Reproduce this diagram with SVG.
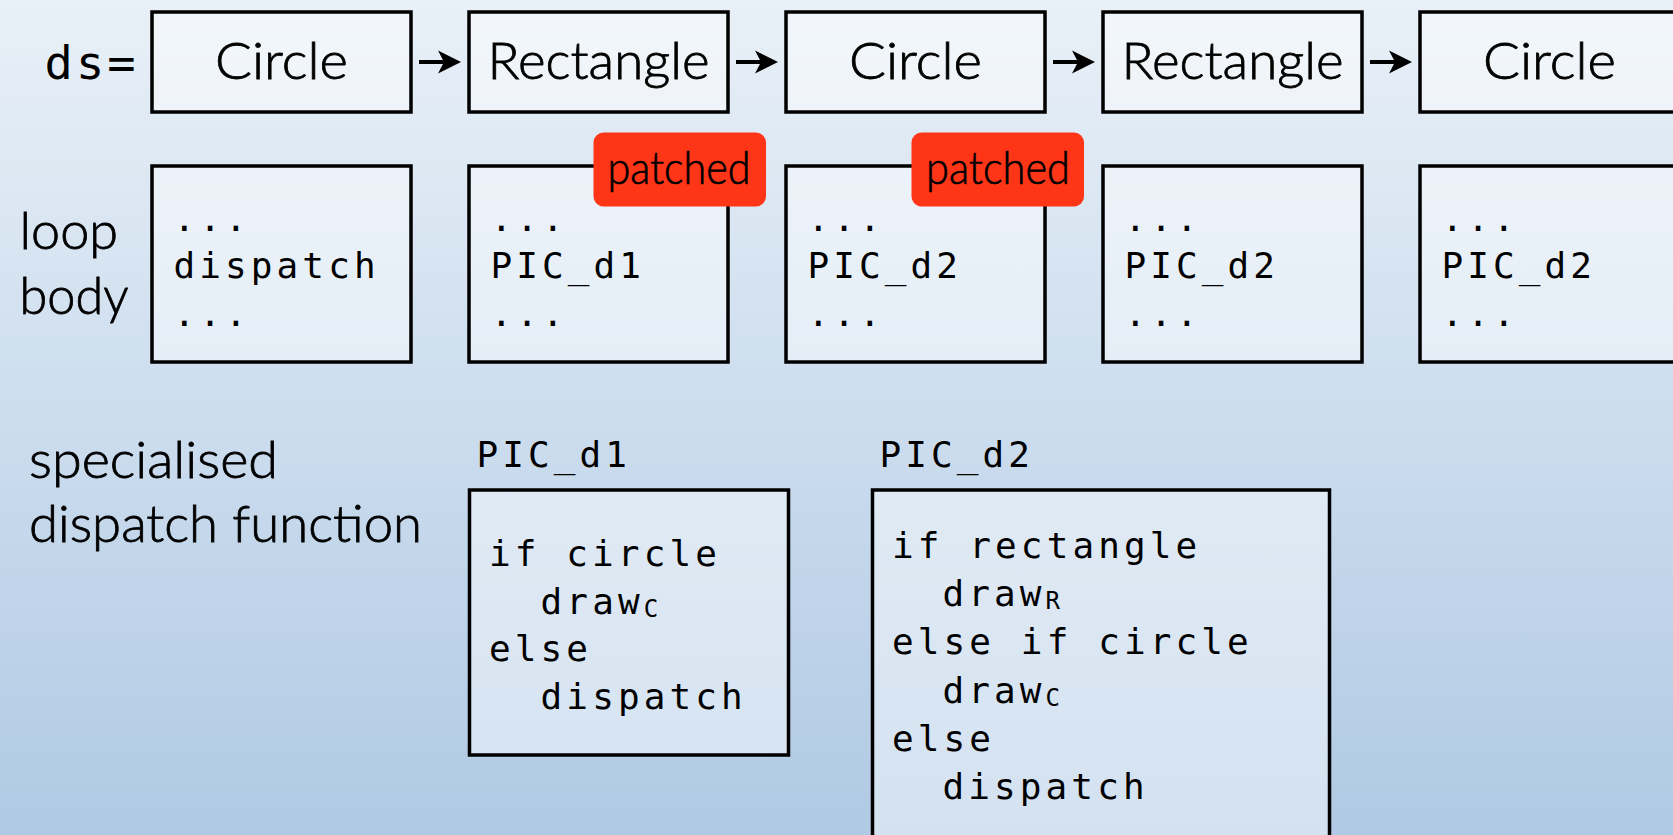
<svg xmlns="http://www.w3.org/2000/svg" width="1673" height="835" viewBox="0 0 1673 835">
<defs>
<linearGradient id="bg" x1="0" y1="0" x2="0" y2="1">
<stop offset="0" stop-color="#E9F0F7"/>
<stop offset="0.5" stop-color="#CCDDEE"/>
<stop offset="1" stop-color="#B0C9E4"/>
</linearGradient>
<path id="ah" d="M0,0 L-23,-11.5 L-17,0 L-23,11.5 Z"/>
</defs>
<style>
.box{fill:#FFFFFF;fill-opacity:0.45;stroke:#000;stroke-width:3.5}
.hum{font-family:Lato,"Open Sans","Liberation Sans",sans-serif;font-weight:300;font-size:52px;fill:#000;stroke:#000;stroke-width:0.8px}
.mono{font-family:"DejaVu Sans Mono","Liberation Mono",monospace;font-size:36px;letter-spacing:4.1px;fill:#000}
.sub{font-size:24px;letter-spacing:0}
.tag{fill:#FF3518}
.tagt{font-family:Lato,"Open Sans","Liberation Sans",sans-serif;font-weight:300;font-size:46px;fill:#000;stroke:#000;stroke-width:0.7px}
.conn line{stroke:#000;stroke-width:4}
.conn use{fill:#000}
</style>
<rect x="0" y="0" width="1673" height="835" fill="url(#bg)"/>

<g id="labels">
<text class="mono" x="44.5" y="79" style="font-size:47px;letter-spacing:3.1px">ds=</text>
<text class="hum" x="19.5" y="248.5" textLength="98.5" lengthAdjust="spacingAndGlyphs">loop</text>
<text class="hum" x="19.5" y="313.5" textLength="109" lengthAdjust="spacingAndGlyphs">body</text>
<text class="hum" x="29" y="478" textLength="249" lengthAdjust="spacingAndGlyphs">specialised</text>
<text class="hum" x="29" y="541.5" textLength="393" lengthAdjust="spacingAndGlyphs">dispatch function</text>
</g>

<g id="ds1">
<rect class="box" x="152" y="12" width="259" height="100"/>
<text class="hum" x="281.5" y="79" text-anchor="middle" textLength="133" lengthAdjust="spacingAndGlyphs">Circle</text>
</g>
<g id="ds2">
<rect class="box" x="469" y="12" width="259" height="100"/>
<text class="hum" x="598.5" y="79" text-anchor="middle" textLength="222" lengthAdjust="spacingAndGlyphs">Rectangle</text>
</g>
<g id="ds3">
<rect class="box" x="786" y="12" width="259" height="100"/>
<text class="hum" x="915.5" y="79" text-anchor="middle" textLength="133" lengthAdjust="spacingAndGlyphs">Circle</text>
</g>
<g id="ds4">
<rect class="box" x="1103" y="12" width="259" height="100"/>
<text class="hum" x="1232.5" y="79" text-anchor="middle" textLength="222" lengthAdjust="spacingAndGlyphs">Rectangle</text>
</g>
<g id="ds5">
<rect class="box" x="1420" y="12" width="259" height="100"/>
<text class="hum" x="1549.5" y="79" text-anchor="middle" textLength="133" lengthAdjust="spacingAndGlyphs">Circle</text>
</g>

<g id="connectors" class="conn">
<line x1="419" y1="62" x2="446" y2="62"/><use href="#ah" x="461" y="62"/>
<line x1="736" y1="62" x2="763" y2="62"/><use href="#ah" x="778" y="62"/>
<line x1="1053" y1="62" x2="1080" y2="62"/><use href="#ah" x="1095" y="62"/>
<line x1="1370" y1="62" x2="1397" y2="62"/><use href="#ah" x="1412" y="62"/>
</g>

<g id="body1">
<rect class="box" x="152" y="166" width="259" height="196"/>
<text class="mono" x="173.5" y="230.5">...</text>
<text class="mono" x="173.5" y="277.5">dispatch</text>
<text class="mono" x="173.5" y="326">...</text>
</g>
<g id="body2">
<rect class="box" x="469" y="166" width="259" height="196"/>
<text class="mono" x="490.5" y="230.5">...</text>
<text class="mono" x="490.5" y="277.5">PIC_d1</text>
<text class="mono" x="490.5" y="326">...</text>
</g>
<g id="body3">
<rect class="box" x="786" y="166" width="259" height="196"/>
<text class="mono" x="807.5" y="230.5">...</text>
<text class="mono" x="807.5" y="277.5">PIC_d2</text>
<text class="mono" x="807.5" y="326">...</text>
</g>
<g id="body4">
<rect class="box" x="1103" y="166" width="259" height="196"/>
<text class="mono" x="1124.5" y="230.5">...</text>
<text class="mono" x="1124.5" y="277.5">PIC_d2</text>
<text class="mono" x="1124.5" y="326">...</text>
</g>
<g id="body5">
<rect class="box" x="1420" y="166" width="259" height="196"/>
<text class="mono" x="1441.5" y="230.5">...</text>
<text class="mono" x="1441.5" y="277.5">PIC_d2</text>
<text class="mono" x="1441.5" y="326">...</text>
</g>

<g id="patched1">
<rect class="tag" x="593.5" y="132.5" width="172.5" height="74" rx="10"/>
<text class="tagt" x="607.5" y="183.5" textLength="143" lengthAdjust="spacingAndGlyphs">patched</text>
</g>
<g id="patched2">
<rect class="tag" x="911.5" y="132.5" width="172.5" height="74" rx="10"/>
<text class="tagt" x="926" y="183.5" textLength="144" lengthAdjust="spacingAndGlyphs">patched</text>
</g>

<g id="pic_d1">
<text class="mono" x="476.5" y="466.5">PIC_d1</text>
<rect class="box" x="469.5" y="490" width="319" height="265"/>
<text class="mono" x="489" y="566">if circle</text>
<text class="mono" x="540.6" y="613.5">draw<tspan class="sub" dy="3">C</tspan></text>
<text class="mono" x="489" y="661">else</text>
<text class="mono" x="540.6" y="708.5">dispatch</text>
</g>

<g id="pic_d2">
<text class="mono" x="879.5" y="466.5">PIC_d2</text>
<rect class="box" x="872.5" y="490" width="457" height="370"/>
<text class="mono" x="892" y="557.5">if rectangle</text>
<text class="mono" x="942.5" y="605.5">draw<tspan class="sub" dy="3">R</tspan></text>
<text class="mono" x="892" y="654">else if circle</text>
<text class="mono" x="942.5" y="702.5">draw<tspan class="sub" dy="3">C</tspan></text>
<text class="mono" x="892" y="750.5">else</text>
<text class="mono" x="942.5" y="799">dispatch</text>
</g>
</svg>
